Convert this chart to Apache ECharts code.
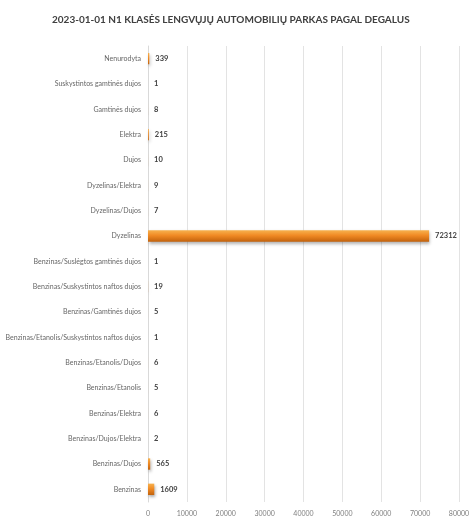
<!DOCTYPE html>
<html><head><meta charset="utf-8">
<script src="https://cdn.jsdelivr.net/npm/echarts@6/dist/echarts.min.js"></script>
<style>html,body{margin:0;padding:0;background:#fff}#c{width:474px;height:527px}</style>
</head><body><div id="c"></div>
<script>
const categories = ["Nenurodyta","Suskystintos gamtinės dujos","Gamtinės dujos","Elektra","Dujos","Dyzelinas/Elektra","Dyzelinas/Dujos","Dyzelinas","Benzinas/Suslėgtos gamtinės dujos","Benzinas/Suskystintos naftos dujos","Benzinas/Gamtinės dujos","Benzinas/Etanolis/Suskystintos naftos dujos","Benzinas/Etanolis/Dujos","Benzinas/Etanolis","Benzinas/Elektra","Benzinas/Dujos/Elektra","Benzinas/Dujos","Benzinas"];
const values = [339,1,8,215,10,9,7,72312,1,19,5,1,6,5,6,2,565,1609];
const xTicks = [0,10000,20000,30000,40000,50000,60000,70000,80000];
const font = "Lato, 'Open Sans', sans-serif";
const chart = echarts.init(document.getElementById('c'));
chart.setOption({
  animation:false,
  title:{text:"2023-01-01 N1 KLASĖS LENGVŲJŲ AUTOMOBILIŲ PARKAS PAGAL DEGALUS",left:47,top:10,
    textStyle:{fontFamily:font,fontSize:10,fontWeight:'bold',color:'#404040'}},
  grid:{left:148,right:15,top:46,bottom:25,containLabel:false,outerBoundsMode:'none'},
  xAxis:{type:'value',min:xTicks[0],max:xTicks[xTicks.length-1],interval:10000,
    axisLine:{show:false},axisTick:{show:false},
    splitLine:{lineStyle:{color:'#e3e3e3',width:1}},
    axisLabel:{fontFamily:font,fontSize:7,color:'#7f7f7f',margin:8,formatter:v=>String(v)}},
  yAxis:{type:'category',data:categories,inverse:true,
    axisLine:{show:true,lineStyle:{color:'#d9d9d9'}},axisTick:{show:false},
    axisLabel:{fontFamily:font,fontSize:7,color:'#666666',margin:7}},
  series:[{type:'bar',data:values,barWidth:'45%',
    itemStyle:{color:new echarts.graphic.LinearGradient(0,0,0,1,[
      {offset:0,color:'#f7b14e'},{offset:0.45,color:'#f08a24'},{offset:1,color:'#c2620c'}]),
      shadowColor:'rgba(0,0,0,0.3)',shadowBlur:3,shadowOffsetX:1,shadowOffsetY:2},
    label:{show:true,position:'right',distance:6,fontFamily:font,fontSize:7.5,fontWeight:'bold',color:'#404040'}}]
});
</script></body></html>
